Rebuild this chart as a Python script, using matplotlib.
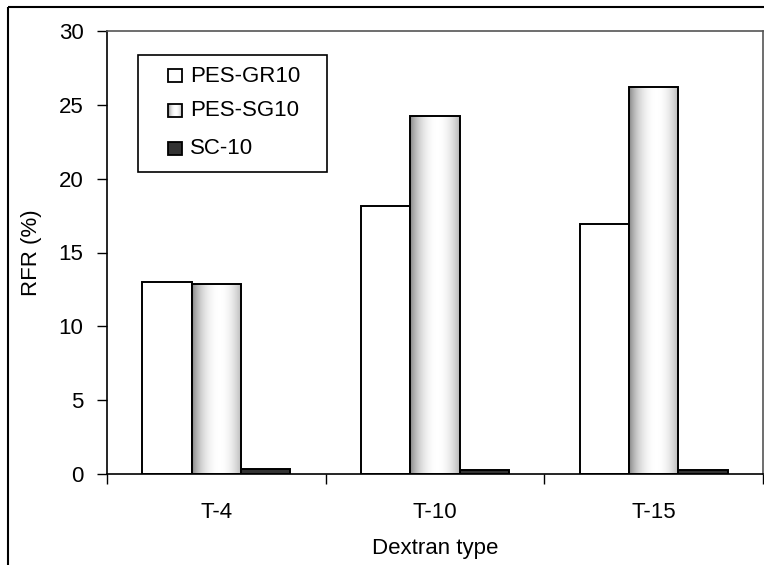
import numpy as np
import matplotlib
matplotlib.use('Agg')
from matplotlib import pyplot as plt
from matplotlib.patches import Rectangle

#------------------------------------------------------------
# data
categories = ['T-4', 'T-10', 'T-15']
series = ['PES-GR10', 'PES-SG10', 'SC-10']
pes_gr10 = [13.0, 18.15, 16.95]
pes_sg10 = [12.9, 24.25, 26.2]
sc_10 = [0.35, 0.25, 0.25]

plt.rcParams['font.family'] = ['Liberation Sans', 'DejaVu Sans']
FS = 16

fig = plt.figure(figsize=(7.64, 5.65), dpi=100)
ax = fig.add_axes([107 / 764, 1 - 474 / 565, 656 / 764, 443 / 565])

# horizontal "cylinder" shading for the middle series
t = np.linspace(0, 1, 256)
shade = 0.5 + 0.5 * np.clip(1 - ((t - 0.55) / 0.55) ** 2, 0, 1) ** 0.8
shade = np.clip(shade, 0, 1)[None, :]

x = np.arange(len(categories))
w = 0.226
values = [pes_gr10, pes_sg10, sc_10]
colors = ['white', 'white', '#333333']
for i, vals in enumerate(values):
    bars = ax.bar(x + (i - 1) * w, vals, w, color=colors[i], edgecolor='black',
                  linewidth=1.4, zorder=2)
    if i == 1:
        for b in bars:
            x0, y0 = b.get_x(), b.get_y()
            im = ax.imshow(shade, cmap='gray', vmin=0, vmax=1, aspect='auto',
                           extent=[x0, x0 + b.get_width(), y0, y0 + b.get_height()],
                           zorder=2.5, interpolation='bilinear')
            im.set_clip_path(b)
            b.set_facecolor('none')
            b.set_zorder(3)

ax.set_xlim(-0.5, 2.5)
ax.set_ylim(0, 30)
ax.set_yticks(np.arange(0, 31, 5))
ax.set_xticks(x)
ax.set_xticklabels(categories)
ax.set_xticks([-0.5, 0.5, 1.5, 2.5], minor=True)
ax.tick_params(axis='x', which='major', length=0, pad=20, labelsize=FS)
ax.tick_params(axis='x', which='minor', length=7, width=1, direction='out')
ax.tick_params(axis='y', length=7, width=1, direction='out', labelsize=FS, pad=10)
for s in ['top', 'right']:
    ax.spines[s].set_color('#555555')
    ax.spines[s].set_linewidth(1.2)
for s in ['left', 'bottom']:
    ax.spines[s].set_linewidth(1.2)

ax.set_xlabel('Dextran type', fontsize=FS, labelpad=11)
ax.set_ylabel('RFR (%)', fontsize=FS, labelpad=12)

#------------------------------------------------------------
# overlay in pixel units for the legend box and the figure border
ov = fig.add_axes([0, 0, 1, 1], zorder=5)
ov.set_xlim(0, 764)
ov.set_ylim(565, 0)
ov.axis('off')
ov.patch.set_alpha(0)

ov.add_patch(Rectangle((138, 55), 189, 117, fill=False, edgecolor='black', linewidth=1.2))
rows = [75.5, 110.5, 148]
fills = ['white', None, '#333333']
for yc, name, fc in zip(rows, series, fills):
    if fc is None:
        ov.imshow(shade, cmap='gray', vmin=0, vmax=1, aspect='auto', interpolation='bilinear',
                  extent=[168, 182, yc + 6.5, yc - 6.5])
        ov.add_patch(Rectangle((168, yc - 6.5), 14, 13, fill=False, edgecolor='black', linewidth=1.3))
    else:
        ov.add_patch(Rectangle((168, yc - 6.5), 14, 13, facecolor=fc, edgecolor='black', linewidth=1.3))
    ov.text(190, yc + 0.5, name, fontsize=FS, va='center', ha='left')
ov.set_xlim(0, 764)
ov.set_ylim(565, 0)

# figure border
ov.add_patch(Rectangle((8, 7), 800, 600, fill=False, edgecolor='black', linewidth=1.5,
                       clip_on=False))

fig.savefig('out.png', dpi=100)
